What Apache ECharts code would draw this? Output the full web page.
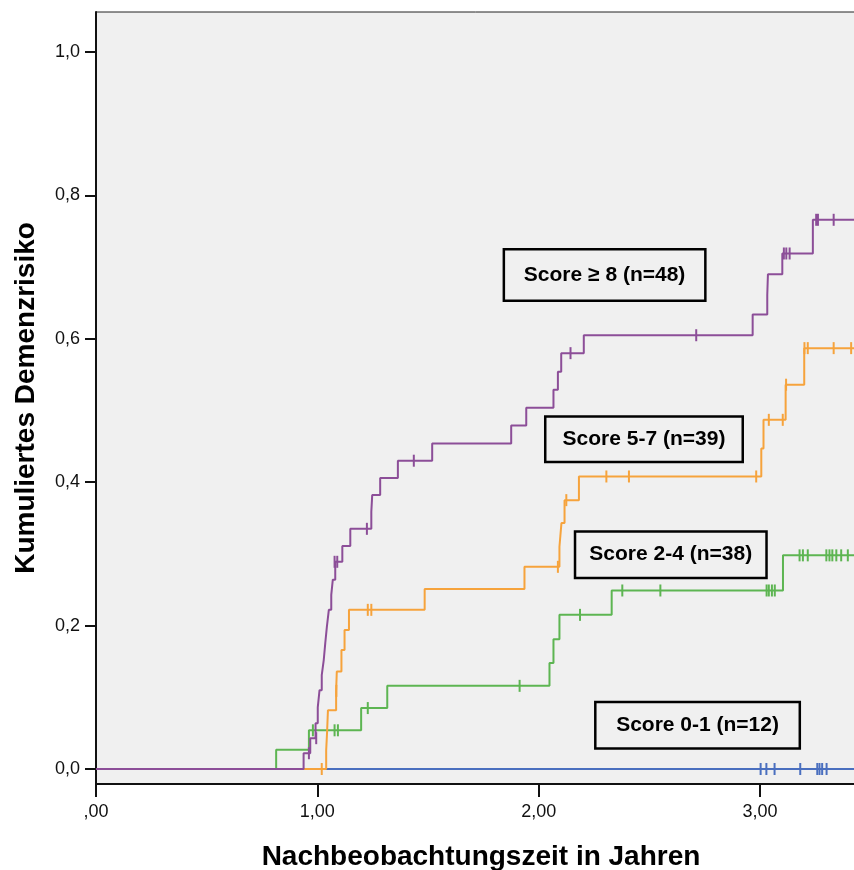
<!DOCTYPE html>
<html>
<head>
<meta charset="utf-8">
<script src="https://cdn.jsdelivr.net/npm/echarts@6/dist/echarts.min.js"></script>
<style>html,body{margin:0;padding:0;background:#fff;}#c{width:854px;height:870px;}</style>
</head>
<body>
<div id="c"></div>
<script>
// ---- data (time in years, cumulative risk) ----
const xTicks = [0, 1, 2, 3];
const yTicks = [0, 0.2, 0.4, 0.6, 0.8, 1.0];
const seriesNames = ['Score 0-1 (n=12)', 'Score 2-4 (n=38)', 'Score 5-7 (n=39)', 'Score \u2265 8 (n=48)'];

const score01Steps = [[0, 0], [3.46, 0]];
const score01Censor = [[3.003, 0], [3.029, 0], [3.066, 0], [3.182, 0], [3.259, 0], [3.269, 0], [3.281, 0], [3.301, 0]];

const score24Steps = [[0, 0], [0.814, 0.027], [0.962, 0.054], [1.198, 0.085], [1.316, 0.116], [2.049, 0.148], [2.067, 0.181], [2.094, 0.215], [2.330, 0.249], [3.104, 0.298], [3.46, 0.298]];
const score24Censor = [[0.980, 0.054], [1.078, 0.054], [1.093, 0.054], [1.228, 0.085], [1.914, 0.116], [2.187, 0.215], [2.378, 0.249], [2.550, 0.249], [3.030, 0.249], [3.040, 0.249], [3.054, 0.249], [3.067, 0.249], [3.179, 0.298], [3.194, 0.298], [3.216, 0.298], [3.300, 0.298], [3.314, 0.298], [3.327, 0.298], [3.345, 0.298], [3.367, 0.298], [3.397, 0.298]];

const score57Steps = [[0, 0], [1.040, 0.026], [1.044, 0.051], [1.048, 0.082], [1.085, 0.109], [1.088, 0.136], [1.109, 0.166], [1.123, 0.194], [1.143, 0.222], [1.485, 0.251], [1.936, 0.282], [2.094, 0.310], [2.103, 0.343], [2.117, 0.375], [2.182, 0.408], [3.006, 0.447], [3.016, 0.487], [3.116, 0.536], [3.200, 0.587], [3.46, 0.587]];
const score57Censor = [[1.020, 0], [1.086, 0.109], [1.228, 0.222], [1.244, 0.222], [2.087, 0.282], [2.125, 0.375], [2.306, 0.408], [2.408, 0.408], [2.983, 0.408], [3.040, 0.487], [3.103, 0.487], [3.118, 0.536], [3.201, 0.587], [3.216, 0.587], [3.333, 0.587], [3.412, 0.587]];

const score8Steps = [[0, 0], [0.938, 0.022], [0.968, 0.043], [0.992, 0.064], [1.002, 0.086], [1.010, 0.110], [1.020, 0.131], [1.029, 0.152], [1.036, 0.176], [1.043, 0.198], [1.052, 0.222], [1.063, 0.243], [1.070, 0.264], [1.081, 0.289], [1.113, 0.311], [1.149, 0.335], [1.244, 0.359], [1.248, 0.382], [1.284, 0.406], [1.364, 0.430], [1.519, 0.454], [1.876, 0.479], [1.944, 0.504], [2.067, 0.529], [2.087, 0.554], [2.102, 0.580], [2.204, 0.605], [2.967, 0.634], [3.033, 0.661], [3.036, 0.690], [3.101, 0.719], [3.239, 0.766], [3.46, 0.766]];
const score8Censor = [[0.962, 0.022], [0.995, 0.043], [1.078, 0.289], [1.090, 0.289], [1.224, 0.335], [1.436, 0.430], [2.144, 0.580], [2.712, 0.605], [3.108, 0.719], [3.119, 0.719], [3.134, 0.719], [3.254, 0.766], [3.262, 0.766], [3.333, 0.766]];

// ---- presentation ----
const colors = ['#4a6fbf', '#5db552', '#f6a33c', '#8c4e98'];
const boxAnchors = [[2.718, 0.061], [2.597, 0.299], [2.476, 0.460], [2.298, 0.689]];
const boxSizes = [[202, 44], [189, 44], [195, 43], [199, 49]];
const FONT = 'Liberation Sans, Arial, sans-serif';

const stepSets = [score01Steps, score24Steps, score57Steps, score8Steps];
const censorSets = [score01Censor, score24Censor, score57Censor, score8Censor];

const series = [];
stepSets.forEach((d, i) => {
  series.push({
    type: 'line', step: 'end', data: d, showSymbol: false, symbol: 'none',
    lineStyle: { color: colors[i], width: 2 }, z: 2 + i, silent: true, animation: false
  });
});
censorSets.forEach((d, i) => {
  series.push({
    type: 'scatter', data: d, symbol: 'rect', symbolSize: [2, 12],
    itemStyle: { color: colors[i], opacity: 1 }, z: 2 + i, silent: true, animation: false
  });
});
series.push({
  type: 'scatter', symbolSize: 0, z: 20, silent: true, animation: false,
  itemStyle: { opacity: 1 },
  data: seriesNames.map((n, i) => ({
    value: boxAnchors[i],
    label: {
      show: true, position: 'inside', formatter: n, opacity: 1,
      width: boxSizes[i][0], height: boxSizes[i][1], lineHeight: boxSizes[i][1],
      align: 'center', verticalAlign: 'middle',
      backgroundColor: '#f0f0f0', borderColor: '#000', borderWidth: 2.5,
      textBorderWidth: 0, textShadowBlur: 0,
      color: '#000', fontSize: 21, fontWeight: 'bold', fontFamily: FONT
    }
  }))
});

const chart = echarts.init(document.getElementById('c'), null, { renderer: 'canvas' });
chart.setOption({
  animation: false,
  grid: { left: 96, right: -6, top: 12, bottom: 86, show: true, backgroundColor: '#f0f0f0', borderColor: '#222', borderWidth: 1, containLabel: false, outerBoundsMode: 'none' },
  xAxis: {
    type: 'value', min: 0, max: 3.452,
    name: 'Nachbeobachtungszeit in Jahren', nameLocation: 'middle', nameGap: 59,
    nameTextStyle: { fontSize: 28, fontWeight: 'bold', color: '#000', fontFamily: FONT, padding: [0, 0, 0, 6] },
    axisLine: { show: true, onZero: false, lineStyle: { color: '#111', width: 2 } },
    axisTick: { show: true, inside: false, length: 13, lineStyle: { color: '#111', width: 2 }, customValues: xTicks },
    axisLabel: {
      customValues: xTicks, margin: 19, fontSize: 18, color: '#111', fontFamily: FONT,
      formatter: v => (v === 0 ? ',00' : v.toFixed(2).replace('.', ','))
    },
    splitLine: { show: false }
  },
  yAxis: {
    type: 'value', min: -0.0209, max: 1.0558,
    name: 'Kumuliertes Demenzrisiko', nameLocation: 'middle', nameGap: 56,
    nameTextStyle: { fontSize: 28, fontWeight: 'bold', color: '#000', fontFamily: FONT },
    axisLine: { show: true, onZero: false, lineStyle: { color: '#111', width: 2 } },
    axisTick: { show: true, length: 11, lineStyle: { color: '#111', width: 2 }, customValues: yTicks },
    axisLabel: {
      customValues: yTicks, margin: 16, fontSize: 18, color: '#111', fontFamily: FONT,
      formatter: v => v.toFixed(1).replace('.', ',')
    },
    splitLine: { show: false }
  },
  series: series
});
</script>
</body>
</html>
